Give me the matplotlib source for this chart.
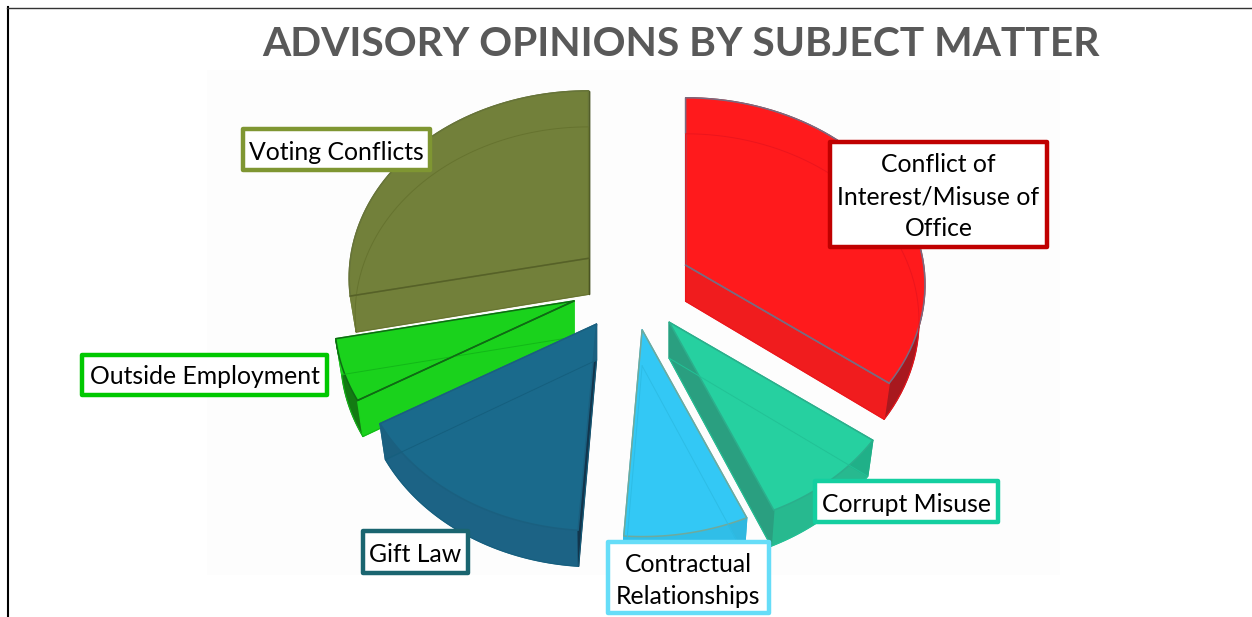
import numpy as np
import matplotlib
matplotlib.use("Agg")
import matplotlib.pyplot as plt
from matplotlib.patches import Polygon, Rectangle

title = "ADVISORY OPINIONS BY SUBJECT MATTER"
categories = ["Conflict of\nInterest/Misuse of\nOffice", "Corrupt Misuse",
              "Contractual\nRelationships", "Gift Law", "Outside Employment",
              "Voting Conflicts"]
shares = [35.2, 8.3, 7.6, 15.4, 5.3, 28.2]

top_colors = ["#FF1A1C", "#26D0A0", "#33C8F5", "#1A6A8C", "#1AD21C", "#72803A"]
start_face = ["#3A3F5A", "#20B088", "#2FB8E0", "#12354C", "#1AD21C", "#72803A"]
end_face = ["#F01C1E", "#2A9F80", "#30BEE8", "#1B6080", "#1AD21C", "#4A5424"]
outer_face = ["#A8181E", "#27B98F", "#30BEE8", "#1C6385", "#137A13", "#667335"]
edge_colors = ["#7A6A80", "#2BAF8C", "#6FAA9C", "#1A6080", "#0F6A14", "#677439"]
ghost_colors = ["#EC151C", "#22C296", "#2DBDE6", "#155F7E", "#12B818", "#66732F"]
box_colors = ["#C00000", "#14CFA0", "#66DDF8", "#1A6570", "#00C800", "#7F9632"]
boxes = [(828, 140, 1049, 249), (813, 479, 1000, 524), (606, 540, 771, 615),
         (361, 529, 470, 575), (80, 353, 329, 397), (241, 127, 432, 172)]
line_ys = [[165, 197, 229], [504], [565, 597], [554], [377], [152]]
draw_order = [5, 4, 3, 2, 1, 0]

CX, CY = 634, 285.5
A, B, P = 238, 185, 0.105
EXPLODE_X, EXPLODE_Y = 60, 43
nudge_x = [-2, -2, -2, -6, -4, 1]
nudge_y = [-1, 3, 2, 2, 0, 0]
rim_edge = {0: -1, 4: 0, 5: 0}
rim_colors = {0: "#7A6A80", 4: "#0F6A14", 5: "#566127"}
DEPTH = 36
SHRINK = 0.975


def local(theta):
    u, v = np.sin(theta), np.cos(theta)
    w = 1 + P * v
    return A * u / w, -B * v / w


def poly(ax, xs, ys, color, edge, z, lw=1.0):
    ax.add_patch(Polygon(np.column_stack([xs, ys]), closed=True, facecolor=color,
                         edgecolor=edge, linewidth=lw, zorder=z, joinstyle="round"))


fig = plt.figure(figsize=(12.52, 6.17), dpi=100, facecolor="white")
ax = fig.add_axes([0, 0, 1, 1])
ax.set_xlim(0, 1252)
ax.set_ylim(617, 0)
ax.axis("off")

ax.add_patch(Rectangle((207, 70), 853, 505, facecolor="#FDFDFD", edgecolor="none", zorder=0))
ax.plot([7.5, 7.5], [7, 617], color="#000000", lw=1.5, zorder=1)
ax.plot([7, 1252], [7.5, 7.5], color="#333333", lw=1.0, zorder=1)

angles = np.cumsum([0] + shares) / sum(shares) * 2 * np.pi

for k, i in enumerate(draw_order):
    t0, t1 = angles[i], angles[i + 1]
    mid = (t0 + t1) / 2
    ax0 = CX + EXPLODE_X * np.sin(mid) + nudge_x[i]
    ay0 = CY - EXPLODE_Y * np.cos(mid) + nudge_y[i]
    ts = np.linspace(t0, t1, 60)
    lx, ly = local(ts)
    tx, ty = ax0 + lx, ay0 + ly
    bx, by = ax0 + lx * SHRINK, ay0 + ly + DEPTH
    z = 2 + k
    poly(ax, np.r_[tx, bx[::-1]], np.r_[ty, by[::-1]], outer_face[i], outer_face[i], z)
    poly(ax, [ax0, tx[0], bx[0], ax0], [ay0, ty[0], by[0], ay0 + DEPTH], start_face[i], start_face[i], z)
    poly(ax, [ax0, tx[-1], bx[-1], ax0], [ay0, ty[-1], by[-1], ay0 + DEPTH], end_face[i], end_face[i], z)
    poly(ax, np.r_[ax0, tx], np.r_[ay0, ty], top_colors[i], edge_colors[i], z, lw=1.1)
    ax.plot(np.r_[ax0, bx, ax0], np.r_[ay0 + DEPTH, by, ay0 + DEPTH],
            color=ghost_colors[i], lw=0.7, zorder=z, solid_joinstyle="round")
    if i in rim_edge:
        j = rim_edge[i]
        ax.plot([ax0, tx[j]], [ay0, ty[j]], color=rim_colors[i], lw=1.1, zorder=z)

ax.text(681, 44, title, ha="center", va="center", family="Lato", weight="bold",
        fontsize=29.3, color="#595959", zorder=20)

for name, box, col, ys in zip(categories, boxes, box_colors, line_ys):
    x0, y0, x1, y1 = box
    ax.add_patch(Rectangle((x0 + 2, y0 + 2), x1 - x0 - 4, y1 - y0 - 4, facecolor="white",
                           edgecolor=col, linewidth=3.2, zorder=15, joinstyle="round"))
    for line, y in zip(name.split("\n"), ys):
        ax.text((x0 + x1) / 2, y, line, ha="center", va="center", family="Lato",
                fontsize=17.8, color="black", zorder=16)

fig.savefig("out.png", dpi=100, facecolor="white")
